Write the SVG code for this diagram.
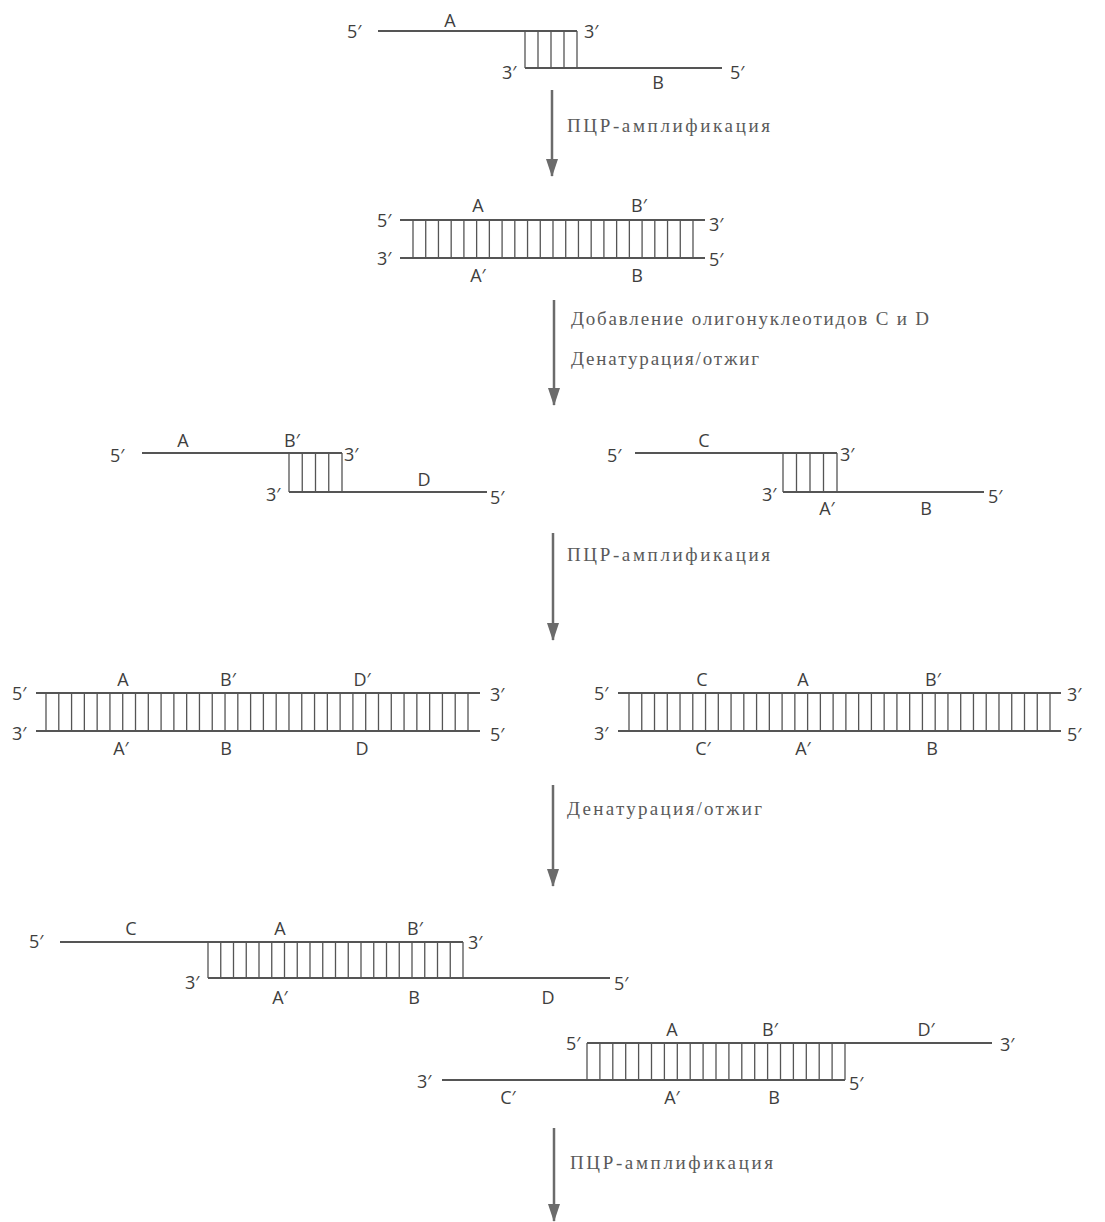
<svg xmlns="http://www.w3.org/2000/svg" width="1105" height="1222" viewBox="0 0 1105 1222">
  <defs>
    <marker id="ah" viewBox="0 0 18 12" refX="17" refY="6" markerWidth="18" markerHeight="12" markerUnits="userSpaceOnUse" orient="auto">
      <path d="M0,0 L18,6 L0,12 Z" fill="#6b6b6b"/>
    </marker>
  </defs>
  <style>
    .strand { stroke: #555; stroke-width: 2; fill: none; }
    .rungs { stroke: #555; fill: none; stroke-linecap: butt; }
    .lbl { font-family: "Open Sans", "Liberation Sans", sans-serif; font-size: 18px; fill: #3e3e3e; }
    .c { text-anchor: middle; }
    .step { font-family: "Liberation Serif", "DejaVu Serif", serif; font-size: 19px; fill: #5a5a5a; }
    .arrow { stroke: #6b6b6b; stroke-width: 2.5; fill: none; }
  </style>
  <rect width="1105" height="1222" fill="#fff"/>

  <!-- Node 1: primers A and B annealed -->
  <g id="node1">
    <path class="strand" d="M378,31 H577 M525,68 H722"/>
    <line class="rungs" x1="524.35" y1="49.5" x2="577.65" y2="49.5" stroke-width="37" stroke-dasharray="1.3 11.7"/>
    <text class="lbl" x="347" y="38">5′</text>
    <text class="lbl c" x="450" y="27">A</text>
    <text class="lbl" x="584" y="38">3′</text>
    <text class="lbl" x="502" y="79">3′</text>
    <text class="lbl c" x="658" y="89">B</text>
    <text class="lbl" x="730" y="79">5′</text>
  </g>

  <!-- Node 2: full duplex A-B -->
  <g id="node2">
    <path class="strand" d="M400,220 H705 M400,258 H705"/>
    <line class="rungs" x1="412.35" y1="239" x2="693.65" y2="239" stroke-width="38" stroke-dasharray="1.3 11.427"/>
    <text class="lbl" x="377" y="227">5′</text>
    <text class="lbl c" x="478" y="212">A</text>
    <text class="lbl c" x="639" y="212">B′</text>
    <text class="lbl" x="709" y="231">3′</text>
    <text class="lbl" x="377" y="265">3′</text>
    <text class="lbl" x="709" y="266">5′</text>
    <text class="lbl c" x="478" y="282">A′</text>
    <text class="lbl c" x="637" y="282">B</text>
  </g>

  <!-- Node 3a: A-B' with D -->
  <g id="node3a">
    <path class="strand" d="M142,453 H342 M289,492 H487"/>
    <line class="rungs" x1="288.35" y1="472.5" x2="342.65" y2="472.5" stroke-width="39" stroke-dasharray="1.3 11.95"/>
    <text class="lbl" x="110" y="462">5′</text>
    <text class="lbl c" x="183" y="447">A</text>
    <text class="lbl c" x="292" y="447">B′</text>
    <text class="lbl" x="344" y="461">3′</text>
    <text class="lbl" x="266" y="501">3′</text>
    <text class="lbl c" x="424" y="486">D</text>
    <text class="lbl" x="490" y="504">5′</text>
  </g>

  <!-- Node 3b: C with A'-B -->
  <g id="node3b">
    <path class="strand" d="M635,453 H837 M783,492 H984"/>
    <line class="rungs" x1="782.35" y1="472.5" x2="837.65" y2="472.5" stroke-width="39" stroke-dasharray="1.3 12.2"/>
    <text class="lbl" x="607" y="462">5′</text>
    <text class="lbl c" x="704" y="447">C</text>
    <text class="lbl" x="840" y="461">3′</text>
    <text class="lbl" x="762" y="501">3′</text>
    <text class="lbl c" x="827" y="515">A′</text>
    <text class="lbl c" x="926" y="515">B</text>
    <text class="lbl" x="988" y="503">5′</text>
  </g>

  <!-- Node 4a: duplex A-B'-D' -->
  <g id="node4a">
    <path class="strand" d="M36,693 H480 M36,731 H480"/>
    <line class="rungs" x1="45.35" y1="712" x2="468.65" y2="712" stroke-width="38" stroke-dasharray="1.3 11.488"/>
    <text class="lbl" x="12" y="700">5′</text>
    <text class="lbl" x="490" y="701">3′</text>
    <text class="lbl c" x="123" y="686">A</text>
    <text class="lbl c" x="228" y="686">B′</text>
    <text class="lbl c" x="362" y="686">D′</text>
    <text class="lbl" x="12" y="740">3′</text>
    <text class="lbl" x="490" y="741">5′</text>
    <text class="lbl c" x="121" y="755">A′</text>
    <text class="lbl c" x="226" y="755">B</text>
    <text class="lbl c" x="362" y="755">D</text>
  </g>

  <!-- Node 4b: duplex C-A-B' -->
  <g id="node4b">
    <path class="strand" d="M618,693 H1061 M618,731 H1061"/>
    <line class="rungs" x1="628.35" y1="712" x2="1050.65" y2="712" stroke-width="38" stroke-dasharray="1.3 11.458"/>
    <text class="lbl" x="594" y="700">5′</text>
    <text class="lbl" x="1067" y="701">3′</text>
    <text class="lbl c" x="702" y="686">C</text>
    <text class="lbl c" x="803" y="686">A</text>
    <text class="lbl c" x="933" y="686">B′</text>
    <text class="lbl" x="594" y="740">3′</text>
    <text class="lbl" x="1067" y="741">5′</text>
    <text class="lbl c" x="703" y="755">C′</text>
    <text class="lbl c" x="803" y="755">A′</text>
    <text class="lbl c" x="932" y="755">B</text>
  </g>

  <!-- Node 5a: C-A-B' over A'-B-D -->
  <g id="node5a">
    <path class="strand" d="M60,942 H463 M208,978 H610"/>
    <line class="rungs" x1="207.35" y1="960" x2="463.65" y2="960" stroke-width="36" stroke-dasharray="1.3 11.45"/>
    <text class="lbl" x="29" y="948">5′</text>
    <text class="lbl c" x="131" y="935">C</text>
    <text class="lbl c" x="280" y="935">A</text>
    <text class="lbl c" x="415" y="935">B′</text>
    <text class="lbl" x="468" y="949">3′</text>
    <text class="lbl" x="185" y="989">3′</text>
    <text class="lbl c" x="280" y="1004">A′</text>
    <text class="lbl c" x="414" y="1004">B</text>
    <text class="lbl c" x="548" y="1004">D</text>
    <text class="lbl" x="614" y="990">5′</text>
  </g>

  <!-- Node 5b: A-B'-D' over C'-A'-B -->
  <g id="node5b">
    <path class="strand" d="M587,1043 H992 M442,1080 H845"/>
    <line class="rungs" x1="586.35" y1="1061.5" x2="845.65" y2="1061.5" stroke-width="37" stroke-dasharray="1.3 11.6"/>
    <text class="lbl" x="566" y="1050">5′</text>
    <text class="lbl c" x="672" y="1036">A</text>
    <text class="lbl c" x="770" y="1036">B′</text>
    <text class="lbl c" x="926" y="1036">D′</text>
    <text class="lbl" x="1000" y="1051">3′</text>
    <text class="lbl" x="417" y="1088">3′</text>
    <text class="lbl" x="849" y="1090">5′</text>
    <text class="lbl c" x="508" y="1104">C′</text>
    <text class="lbl c" x="672" y="1104">A′</text>
    <text class="lbl c" x="774" y="1104">B</text>
  </g>

  <!-- Connectors -->
  <g id="connectors">
    <line class="arrow" x1="552" y1="90" x2="552" y2="176" marker-end="url(#ah)"/>
    <line class="arrow" x1="554" y1="300" x2="554" y2="405" marker-end="url(#ah)"/>
    <line class="arrow" x1="553" y1="533" x2="553" y2="640" marker-end="url(#ah)"/>
    <line class="arrow" x1="553" y1="785" x2="553" y2="886" marker-end="url(#ah)"/>
    <line class="arrow" x1="554" y1="1128" x2="554" y2="1221" marker-end="url(#ah)"/>
    <text class="step" x="567" y="132" textLength="203" lengthAdjust="spacing">ПЦР-амплификация</text>
    <text class="step" x="571" y="325" textLength="358" lengthAdjust="spacing">Добавление олигонуклеотидов C и D</text>
    <text class="step" x="571" y="365" textLength="188" lengthAdjust="spacing">Денатурация/отжиг</text>
    <text class="step" x="567" y="561" textLength="203" lengthAdjust="spacing">ПЦР-амплификация</text>
    <text class="step" x="567" y="815" textLength="195" lengthAdjust="spacing">Денатурация/отжиг</text>
    <text class="step" x="570" y="1169" textLength="203" lengthAdjust="spacing">ПЦР-амплификация</text>
  </g>
</svg>
